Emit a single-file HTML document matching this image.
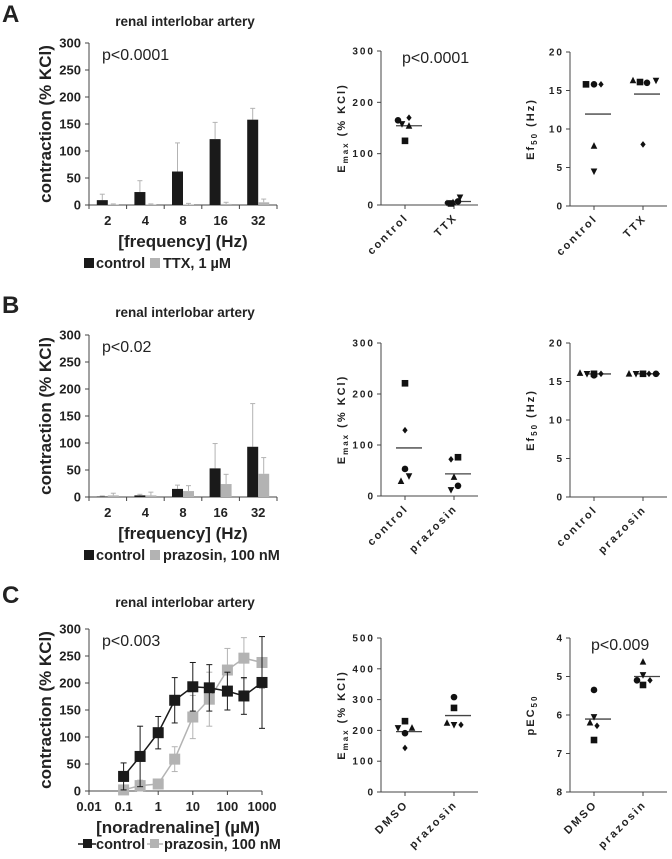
<!DOCTYPE html>
<html><head><meta charset="utf-8">
<style>
html,body{margin:0;padding:0;background:#fff;}
svg{display:block;font-family:"Liberation Sans",Arial,sans-serif;}
</style></head>
<body>
<svg id="fig" width="672" height="859" viewBox="0 0 672 859" xmlns="http://www.w3.org/2000/svg"></svg>
<script>
// ---- Bar chart data ----
const freqLabels = ["2","4","8","16","32"];
const aControl = [9,24,62,122,158];
const aControlErr = [11,21,53,31,21];
const aTTX = [1,1,1,2,5];
const aTTXErr = [1,1,2,3,6];
const bControl = [1,3,15,53,93];
const bControlErr = [1,2,7,46,80];
const bPrazosin = [3,3,11,24,43];
const bPrazosinErr = [4,6,10,18,30];
const barTicks = [0,50,100,150,200,250,300];
// ---- Curve data (C) ----
const naConc = [0.1,0.3,1,3,10,30,100,300,1000];
const cControl = [27,64,108,168,193,191,185,176,201];
const cControlErr = [25,56,30,42,45,43,35,34,85];
const cPrazosin = [2,10,13,59,137,170,224,246,238];
const cPrazosinErr = [3,10,6,23,40,50,40,38,48];
const logTicks = [0.01,0.1,1,10,100,1000];
const logTickLabels = ["0.01","0.1","1","10","100","1000"];
// ---- Scatter data ----
const shapes = ["circle","tridown","diamond","triangle","square"];
const aEmaxControl = [165,158,170,154,125];
const aEmaxTTX = [7,15,4,5,3];
const aEfControl = [15.8,4.5,15.8,7.8,15.8];
const aEfTTX = [16,16.3,8,16.3,16.1];
const bEmaxControl = [53,39,129,29,221];
const bEmaxPrazosin = [20,12,72,37,76];
const bEfControl = [15.8,16,16,16.1,16];
const bEfPrazosin = [16,16,16,16,16];
const cEmaxDMSO = [191,208,143,208,230];
const cEmaxPrazosin = [308,218,218,224,273];
const cPecDMSO = [5.35,6.05,6.28,6.2,6.65];
const cPecPrazosin = [5.1,4.96,5.1,4.62,5.22];
const jitterA1 = [-7,-3,4,4,0];
const jitterA2 = [4,6,-7,-1,-3];
const jitterA3 = [0,0,7,0,-8];
const jitterA4 = [4,13,0,-10,-3];
const jitterB1 = [0,4,0,-4,0];
const jitterB2 = [4,-3,-3,0,4];
const jitterB3 = [0,-7,7,-14,0];
const jitterB4 = [13,-7,6,-14,0];
const jitterC1 = [0,-7,0,7,0];
const jitterC2 = [0,0,7,-7,0];
const jitterC3 = [0,0,3,-4,0];
const jitterC4 = [-6,0,7,0,0];

const NS="http://www.w3.org/2000/svg";
const svg=document.getElementById('fig');
function mk(tag,attrs,parent,txt){const e=document.createElementNS(NS,tag);for(const k in attrs)e.setAttribute(k,attrs[k]);if(txt!==undefined)e.textContent=txt;(parent||svg).appendChild(e);return e;}
function grp(name){const g=mk('g',{});return g;}
function txt(parent,x,y,s,opt){const t=mk('text',Object.assign({x:x,y:y,fill:'#222','font-size':13,'font-weight':'bold'},opt||{}),parent,s);return t;}

const AX='#444';
const DARK='#1a1a1a', LIGHT='#b3b3b3';

function panelHeader(letter,y){
  const t=txt(svg,2,y,letter,{'font-size':24});
  
  
  const t2=txt(svg,185,y+4,'renal interlobar artery',{'font-size':13.5,'text-anchor':'middle'});
  
  
}

function yAxisBar(g,y0,ticks){
  const sy=v=>y0-v/300*162;
  mk('line',{x1:89,x2:89,y1:sy(300),y2:y0,stroke:AX,'stroke-width':1},g);
  ticks.forEach(v=>{mk('line',{x1:85,x2:89,y1:sy(v),y2:sy(v),stroke:AX},g);
    txt(g,81,sy(v)+4.5,String(v),{'text-anchor':'end','font-size':13});});
  const yl=txt(g,0,0,'contraction (% KCl)',{'font-size':17,'text-anchor':'middle',transform:`translate(51,${y0-81}) rotate(-90)`});
  
  
  return sy;
}

function barChart(name,y0,c,ce,t,te,pLabel,legend2){
  const g=grp(name);
  const sy=yAxisBar(g,y0,barTicks);
  const step=37.6;
  mk('line',{x1:89,x2:277,y1:y0,y2:y0,stroke:AX},g);
  for(let i=0;i<=5;i++){mk('line',{x1:89+i*step,x2:89+i*step,y1:y0,y2:y0+4,stroke:AX},g);}
  freqLabels.forEach((l,i)=>{
    const cx=89+(i+0.5)*step;
    mk('line',{x1:cx-5.5,x2:cx-5.5,y1:sy(c[i]),y2:sy(c[i]+ce[i]),stroke:LIGHT},g);
    mk('line',{x1:cx-8,x2:cx-3,y1:sy(c[i]+ce[i]),y2:sy(c[i]+ce[i]),stroke:LIGHT},g);
    mk('line',{x1:cx+5.5,x2:cx+5.5,y1:sy(t[i]),y2:sy(t[i]+te[i]),stroke:LIGHT},g);
    mk('line',{x1:cx+3,x2:cx+8,y1:sy(t[i]+te[i]),y2:sy(t[i]+te[i]),stroke:LIGHT},g);
    const b1=mk('rect',{x:cx-11,y:sy(c[i]),width:11,height:y0-sy(c[i]),fill:DARK},g);
    
    
    const b2=mk('rect',{x:cx,y:sy(t[i]),width:11,height:y0-sy(t[i]),fill:LIGHT},g);
    
    
    txt(g,cx,y0+20,l,{'text-anchor':'middle','font-size':13});
  });
  const xt=txt(g,183,y0+42,'[frequency] (Hz)',{'text-anchor':'middle','font-size':17});
  
  
  const p=txt(g,102,y0-145,pLabel,{'font-size':16,'font-weight':'normal'});
  
  
  const lg=grp('legend');g.appendChild(lg);
  mk('rect',{x:84,y:y0+53,width:10,height:10,fill:DARK},lg);
  txt(lg,96,y0+63,'control',{'font-size':14.5});
  mk('rect',{x:150,y:y0+53,width:10,height:10,fill:LIGHT},lg);
  txt(lg,163,y0+63,legend2,{'font-size':14.5});
}

panelHeader('A',22);
barChart('bar-chart-a',205,aControl,aControlErr,aTTX,aTTXErr,'p<0.0001','TTX, 1 µM');
panelHeader('B',313);
barChart('bar-chart-b',497,bControl,bControlErr,bPrazosin,bPrazosinErr,'p<0.02','prazosin, 100 nM');
panelHeader('C',603);

(function(){
  const g=grp('curve-chart-c');
  const y0=791;
  const sy=yAxisBar(g,y0,barTicks);
  const sx=v=>89+(Math.log10(v)+2)*34.6;
  mk('line',{x1:89,x2:262,y1:y0,y2:y0,stroke:AX},g);
  logTicks.forEach((v,i)=>{mk('line',{x1:sx(v),x2:sx(v),y1:y0,y2:y0+4,stroke:AX},g);
    txt(g,sx(v),y0+20,logTickLabels[i],{'text-anchor':'middle','font-size':13});});
  const xt=txt(g,178,y0+42,'[noradrenaline] (µM)',{'text-anchor':'middle','font-size':17});
  
  
  function series(vals,errs,col,name){
    const sg=grp('series-'+name);g.appendChild(sg);
    vals.forEach((v,i)=>{const x=sx(naConc[i]);
      mk('line',{x1:x,x2:x,y1:sy(Math.max(0,v-errs[i])),y2:sy(v+errs[i]),stroke:col,'stroke-width':1},sg);
      mk('line',{x1:x-3,x2:x+3,y1:sy(v+errs[i]),y2:sy(v+errs[i]),stroke:col},sg);
      mk('line',{x1:x-3,x2:x+3,y1:sy(Math.max(0,v-errs[i])),y2:sy(Math.max(0,v-errs[i])),stroke:col},sg);});
    mk('polyline',{points:vals.map((v,i)=>sx(naConc[i])+','+sy(v)).join(' '),fill:'none',stroke:col,'stroke-width':1.5},sg);
    vals.forEach((v,i)=>{const r=mk('rect',{x:sx(naConc[i])-5.5,y:sy(v)-5.5,width:11,height:11,fill:col},sg);
      
      });
  }
  series(cPrazosin,cPrazosinErr,LIGHT,'prazosin');
  series(cControl,cControlErr,DARK,'control');
  const p=txt(g,102,y0-145,'p<0.003',{'font-size':16,'font-weight':'normal'});
  
  
  const lg=grp('legend');g.appendChild(lg);
  mk('line',{x1:78,x2:96,y1:y0+53,y2:y0+53,stroke:DARK,'stroke-width':1.5},lg);
  mk('rect',{x:83,y:y0+48,width:9,height:9,fill:DARK},lg);
  txt(lg,96,y0+58,'control',{'font-size':14.5});
  mk('line',{x1:147,x2:163,y1:y0+53,y2:y0+53,stroke:LIGHT,'stroke-width':1.5},lg);
  mk('rect',{x:150,y:y0+48,width:9,height:9,fill:LIGHT},lg);
  txt(lg,164,y0+58,'prazosin, 100 nM',{'font-size':14.5});
})();

function marker(g,shape,x,y){
  const s=3.3;let e;
  if(shape==='circle')e=mk('circle',{cx:x,cy:y,r:s,fill:'#111'},g);
  else if(shape==='square')e=mk('rect',{x:x-s,y:y-s,width:2*s,height:2*s,fill:'#111'},g);
  else if(shape==='triangle')e=mk('polygon',{points:`${x},${y-s-0.5} ${x+s},${y+s-0.5} ${x-s},${y+s-0.5}`,fill:'#111'},g);
  else if(shape==='tridown')e=mk('polygon',{points:`${x},${y+s+0.5} ${x+s},${y-s+0.5} ${x-s},${y-s+0.5}`,fill:'#111'},g);
  else e=mk('polygon',{points:`${x},${y-s} ${x+s*0.8},${y} ${x},${y+s} ${x-s*0.8},${y}`,fill:'#111'},g);
  return e;
}
function scatter(name,ax,yTop,yBot,vmin,vmax,ticks,cats,g1,g2,j1,j2,title,sub,titleRest,pLabel){
  const g=grp(name);
  const sy=v=>yBot-(v-vmin)/(vmax-vmin)*(yBot-yTop);
  mk('line',{x1:ax,x2:ax,y1:yTop,y2:yBot,stroke:AX},g);
  mk('line',{x1:ax,x2:ax+97,y1:yBot,y2:yBot,stroke:AX},g);
  ticks.forEach(v=>{mk('line',{x1:ax-4,x2:ax,y1:sy(v),y2:sy(v),stroke:AX},g);
    txt(g,ax-6,sy(v)+3.5,String(v),{'text-anchor':'end','font-size':10,'letter-spacing':2});});
  const cx=[ax+24,ax+73];
  [g1,g2].forEach((vals,k)=>{
    const jit=k===0?j1:j2;
    mk('line',{x1:cx[k],x2:cx[k],y1:yBot,y2:yBot+4,stroke:AX},g);
    const lt=txt(g,0,0,cats[k],{'text-anchor':'end','font-size':11,'letter-spacing':2.2,transform:`translate(${cx[k]+4},${yBot+13}) rotate(-45)`});
    
    
    const mean=vals.reduce((a,b)=>a+b,0)/vals.length;
    mk('line',{x1:cx[k]-9,x2:cx[k]+17,y1:sy(mean),y2:sy(mean),stroke:'#444','stroke-width':1.3},g);
    vals.forEach((v,i)=>{const m=marker(g,shapes[i],cx[k]+jit[i],sy(v));
      
      });
  });
  const yt=mk('text',{transform:`translate(${ax-36},${(yTop+yBot)/2}) rotate(-90)`,'text-anchor':'middle','font-size':11,'font-weight':'bold',fill:'#222','letter-spacing':2},g);
  
  
  mk('tspan',{},yt,title);
  if(sub){mk('tspan',{'font-size':8,dy:3},yt,sub);mk('tspan',{dy:-3},yt,titleRest);}
  if(pLabel){const p=txt(g,ax+21,yTop+12,pLabel,{'font-size':16,'font-weight':'normal'});
    
    }
}
scatter('scatter-emax-a',381,51,205,0,300,[0,100,200,300],['control','TTX'],aEmaxControl,aEmaxTTX,jitterA1,jitterA2,'E','max',' (% KCl)','p<0.0001');
scatter('scatter-ef50-a',570,52,206,0,20,[0,5,10,15,20],['control','TTX'],aEfControl,aEfTTX,jitterA3,jitterA4,'Ef','50',' (Hz)',null);
scatter('scatter-emax-b',381,343,496,0,300,[0,100,200,300],['control','prazosin'],bEmaxControl,bEmaxPrazosin,jitterB1,jitterB2,'E','max',' (% KCl)',null);
scatter('scatter-ef50-b',570,343,497,0,20,[0,5,10,15,20],['control','prazosin'],bEfControl,bEfPrazosin,jitterB3,jitterB4,'Ef','50',' (Hz)',null);
scatter('scatter-emax-c',381,638,792,0,500,[0,100,200,300,400,500],['DMSO','prazosin'],cEmaxDMSO,cEmaxPrazosin,jitterC1,jitterC2,'E','max',' (% KCl)',null);
scatter('scatter-pec50-c',570,638,792,8,4,[4,5,6,7,8],['DMSO','prazosin'],cPecDMSO,cPecPrazosin,jitterC3,jitterC4,'pEC','50','','p<0.009');
</script>
</body></html>
